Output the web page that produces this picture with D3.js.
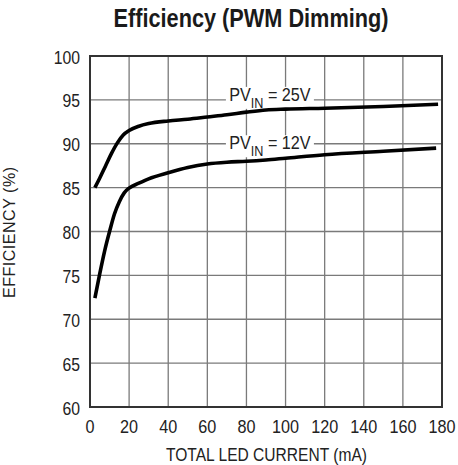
<!DOCTYPE html>
<html><head><meta charset="utf-8">
<script src="https://cdn.jsdelivr.net/npm/d3@7"></script>
<style>
body{margin:0;background:#fff;}
text{font-family:"Liberation Sans",Arial,Helvetica,sans-serif;fill:#222;}
</style></head>
<body><svg id="c" width="458" height="465"></svg>
<script>
const xTicks = [0,20,40,60,80,100,120,140,160,180];
const yTicks = [60,65,70,75,80,85,90,95,100];
const current25 = [2.5, 5, 8, 11, 14, 17, 20, 25, 30, 40, 50, 60, 70, 80, 90, 100, 120, 150, 178];
const eff25     = [85.0, 86.1, 87.5, 88.9, 90.1, 91.0, 91.5, 92.0, 92.3, 92.6, 92.8, 93.05, 93.3, 93.6, 93.85, 93.95, 94.05, 94.25, 94.5];
const current12 = [2.5, 5, 7.5, 10, 12.5, 15, 17.5, 20, 25, 30, 40, 50, 60, 70, 80, 90, 100, 120, 150, 177];
const eff12     = [72.4, 75.2, 77.8, 80.0, 82.0, 83.4, 84.4, 84.95, 85.5, 86.0, 86.7, 87.3, 87.7, 87.9, 88.0, 88.15, 88.35, 88.75, 89.15, 89.5];
const seriesLabels = ["25V", "12V"];
const labelAt = [[92, 95], [92, 90]];
const labelDrop = [1, 5.5];

const svg = d3.select("#c");
const L=90,R=442,T=56,B=407;
const x = d3.scaleLinear().domain([0,180]).range([L,R]);
const y = d3.scaleLinear().domain([60,100]).range([B,T]);

function stext(g, px, py, sx, size, str, anchor){
  return g.append("text").attr("transform",`translate(${px},${py}) scale(${sx},1)`)
    .attr("text-anchor",anchor||"middle").attr("font-size",size).text(str);
}

// grid
svg.append("g").selectAll("line").data(xTicks.slice(1,-1)).join("line")
  .attr("x1",d=>x(d)).attr("x2",d=>x(d)).attr("y1",T).attr("y2",B)
  .attr("stroke","#7a7a7a").attr("stroke-width",1.3);
svg.append("g").selectAll("line").data(yTicks.slice(1,-1)).join("line")
  .attr("y1",d=>y(d)).attr("y2",d=>y(d)).attr("x1",L).attr("x2",R)
  .attr("stroke","#7a7a7a").attr("stroke-width",1.3);

// frame
svg.append("rect").attr("x",L).attr("y",T).attr("width",R-L).attr("height",B-T)
  .attr("fill","none").attr("stroke","#333").attr("stroke-width",2);

// label backgrounds
const lab = svg.append("g");
labelAt.forEach((p,i)=>{
  lab.append("rect").attr("x",x(p[0])-44).attr("y",y(p[1])-14+labelDrop[i]).attr("width",88).attr("height",22).attr("fill","#fff");
});

// curves
const line = d3.line().x(d=>x(d[0])).y(d=>y(d[1])).curve(d3.curveMonotoneX);
[[current25,eff25],[current12,eff12]].forEach(([cx,cy])=>{
  svg.append("path").datum(cx.map((c,i)=>[c,cy[i]])).attr("d",line)
    .attr("fill","none").attr("stroke","#000").attr("stroke-width",3.6).attr("stroke-linecap","butt");
});

// labels
labelAt.forEach((p,i)=>{
  const t = lab.append("text").attr("transform",`translate(${x(p[0])},${y(p[1])+labelDrop[i]}) scale(0.87,1)`)
    .attr("text-anchor","middle").attr("font-size",18.6);
  t.append("tspan").text("PV");
  t.append("tspan").attr("dy",7).style("font-size","14.5px").text("IN");
  t.append("tspan").attr("dy",-7).text(" = "+seriesLabels[i]);
});

// tick labels
const yl = svg.append("g");
yTicks.forEach(d=>stext(yl, 80, y(d)+7.5, 0.9, 17.5, d, "end"));
const xl = svg.append("g");
xTicks.forEach(d=>stext(xl, x(d), 433, 0.9, 18, d, "middle"));

// titles
stext(svg, 251, 27, 0.845, 25.7, "Efficiency (PWM Dimming)").attr("font-weight","bold").style("fill","#1a1a1a");
stext(svg, 266.5, 461, 0.82, 19, "TOTAL LED CURRENT (mA)");
svg.append("text").attr("transform","translate(15,232.5) rotate(-90)").attr("text-anchor","middle")
  .attr("font-size",16).attr("textLength",131).attr("lengthAdjust","spacing").text("EFFICIENCY (%)");
</script></body></html>
